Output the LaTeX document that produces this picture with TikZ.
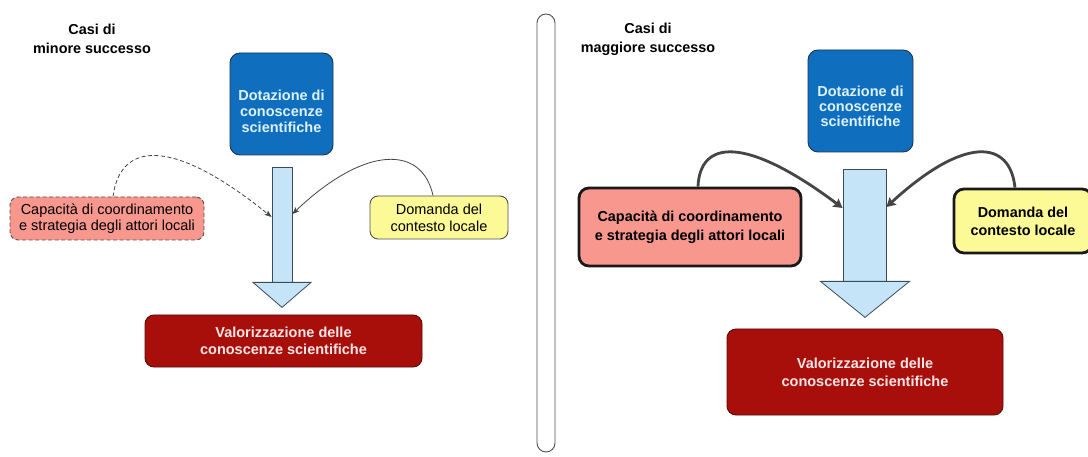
\documentclass[tikz,border=0pt]{standalone}
\usepackage{fontspec}
\setmainfont{Liberation Sans}
\usetikzlibrary{arrows.meta,calc}
\definecolor{dotblue}{HTML}{0F6FBE}
\definecolor{dotedge}{HTML}{1C3550}
\definecolor{dottxt}{HTML}{DDF1FB}
\definecolor{shaftfill}{HTML}{C6E4F8}
\definecolor{shaftedge}{HTML}{3C4B5A}
\definecolor{valred}{HTML}{A90F0A}
\definecolor{valedge}{HTML}{5A0A06}
\definecolor{valtxt}{HTML}{F4E6E6}
\definecolor{pinkfill}{HTML}{F8978E}
\definecolor{yelfill}{HTML}{FCFA96}
\definecolor{edgegray}{HTML}{505050}
\definecolor{curvegray}{HTML}{454545}
\tikzset{
  basefont/.style={font=\fontsize{14.5}{17}\selectfont},
  titlestyle/.style={align=center, font=\fontsize{14.4}{19}\selectfont\bfseries, inner sep=0pt},
  dotbox/.style={draw=dotedge, fill=dotblue, rounded corners=10pt, line width=0.9pt},
  dottext/.style={align=center, text=dottxt, font=\fontsize{14.5}{16}\selectfont\bfseries, inner sep=0pt},
  shaftbox/.style={draw=shaftedge, fill=shaftfill, line width=0.8pt, inner sep=0pt},
  headstyle/.style={draw=shaftedge, fill=shaftfill, line width=0.8pt, line join=miter},
  valbox/.style={draw=valedge, fill=valred, rounded corners=9pt, line width=0.9pt, align=center, text=valtxt, inner sep=0pt},
  capthin/.style={draw=edgegray, fill=pinkfill, rounded corners=8pt, line width=0.9pt, dash pattern=on 4pt off 2.5pt, align=center, inner sep=0pt, font=\fontsize{14.5}{16}\selectfont},
  domthin/.style={draw=edgegray, fill=yelfill, rounded corners=8pt, line width=0.9pt, align=center, inner sep=0pt, font=\fontsize{14.5}{17}\selectfont},
  capthick/.style={draw=black!90, fill=pinkfill, rounded corners=10pt, line width=2.8pt, align=center, inner sep=0pt, font=\fontsize{14.4}{19}\selectfont\bfseries},
  domthick/.style={draw=black!90, fill=yelfill, rounded corners=10pt, line width=2.8pt, align=center, inner sep=0pt, font=\fontsize{14.4}{18}\selectfont\bfseries},
  thinarrow/.style={draw=curvegray, line width=0.8pt, -{Stealth[length=7pt,width=5.5pt,inset=1.5pt]}},
  thickarrow/.style={draw=curvegray, line width=2.8pt, -{Stealth[length=9pt,width=10pt,inset=1.5pt]}},
  divider/.style={draw=edgegray, line width=0.9pt, rounded corners=9pt, inner sep=0pt}
}
\begin{document}
\begin{tikzpicture}[x=1pt,y=-1pt]
\useasboundingbox (0,0) rectangle (1088,457);
\fill[white] (0,0) rectangle (1088,457);
\clip (0,0) rectangle (1088,457);

% divider
\node[divider, minimum width=18pt, minimum height=438pt] (divider) at (546,233) {};

% ---------------- left panel ----------------
\node[titlestyle] (titleL) at (92,38.5) {Casi di\\minore successo};
\node[dotbox, minimum width=103pt, minimum height=102pt] (dotL) at (281.5,104) {};
\node[dottext] (dotLt) at (281.5,111) {Dotazione di\\conoscenze\\scientifiche};
\node[shaftbox, minimum width=20pt, minimum height=115pt] (shaftL) at (282,224.5) {};
\draw[headstyle] ($(shaftL.south)+(-29,0)$) -- ($(shaftL.south)+(29,0)$) -- ($(shaftL.south)+(0,25)$) -- cycle;
\node[valbox, minimum width=277pt, minimum height=52pt, font=\fontsize{14.5}{17}\selectfont\bfseries] (valL) at (283.5,341) {Valorizzazione delle\\conoscenze scientifiche};
\node[capthin, minimum width=194pt, minimum height=43pt] (capL) at (107,218.5) {Capacità di coordinamento\\e strategia degli attori locali};
\node[domthin, minimum width=138pt, minimum height=43pt] (domL) at (439,217.5) {Domanda del\\contesto locale};

\draw[thinarrow, dash pattern=on 4pt off 2.5pt] ([xshift=6pt]capL.north) .. controls (120,143) and (170,135) .. ([yshift=7.5pt]shaftL.west);
\draw[thinarrow] ([xshift=-6pt]domL.north) .. controls (422,145) and (365,145) .. ([yshift=10.5pt]shaftL.east);

% ---------------- right panel ----------------
\node[titlestyle] (titleR) at (648,39) {Casi di\\maggiore successo};
\node[dotbox, minimum width=105pt, minimum height=102pt] (dotR) at (860.5,101) {};
\node[dottext, font=\fontsize{14.5}{15}\selectfont\bfseries] (dotRt) at (860.5,106) {Dotazione di\\conoscenze\\scientifiche};
\node[shaftbox, minimum width=43pt, minimum height=112pt] (shaftR) at (864.5,225) {};
\draw[headstyle] ($(shaftR.south)+(-44,0)$) -- ($(shaftR.south)+(45,0)$) -- ($(shaftR.south)+(0.5,36)$) -- cycle;
\node[valbox, minimum width=276pt, minimum height=86pt, font=\fontsize{14.5}{18}\selectfont\bfseries] (valR) at (865,372) {Valorizzazione delle\\conoscenze scientifiche};
\node[capthick, minimum width=222pt, minimum height=78pt] (capR) at (690,227) {Capacità di coordinamento\\e strategia degli attori locali};
\node[domthick, minimum width=138pt, minimum height=64pt] (domR) at (1023,221) {Domanda del\\contesto locale};

\draw[thickarrow] ([xshift=8pt]capR.north) .. controls (700,140) and (745,135) .. ([yshift=17pt]shaftR.west);
\draw[thickarrow] ([xshift=-8pt]domR.north) .. controls (1010,140) and (965,135) .. ([yshift=18pt]shaftR.east);
\end{tikzpicture}
\end{document}
